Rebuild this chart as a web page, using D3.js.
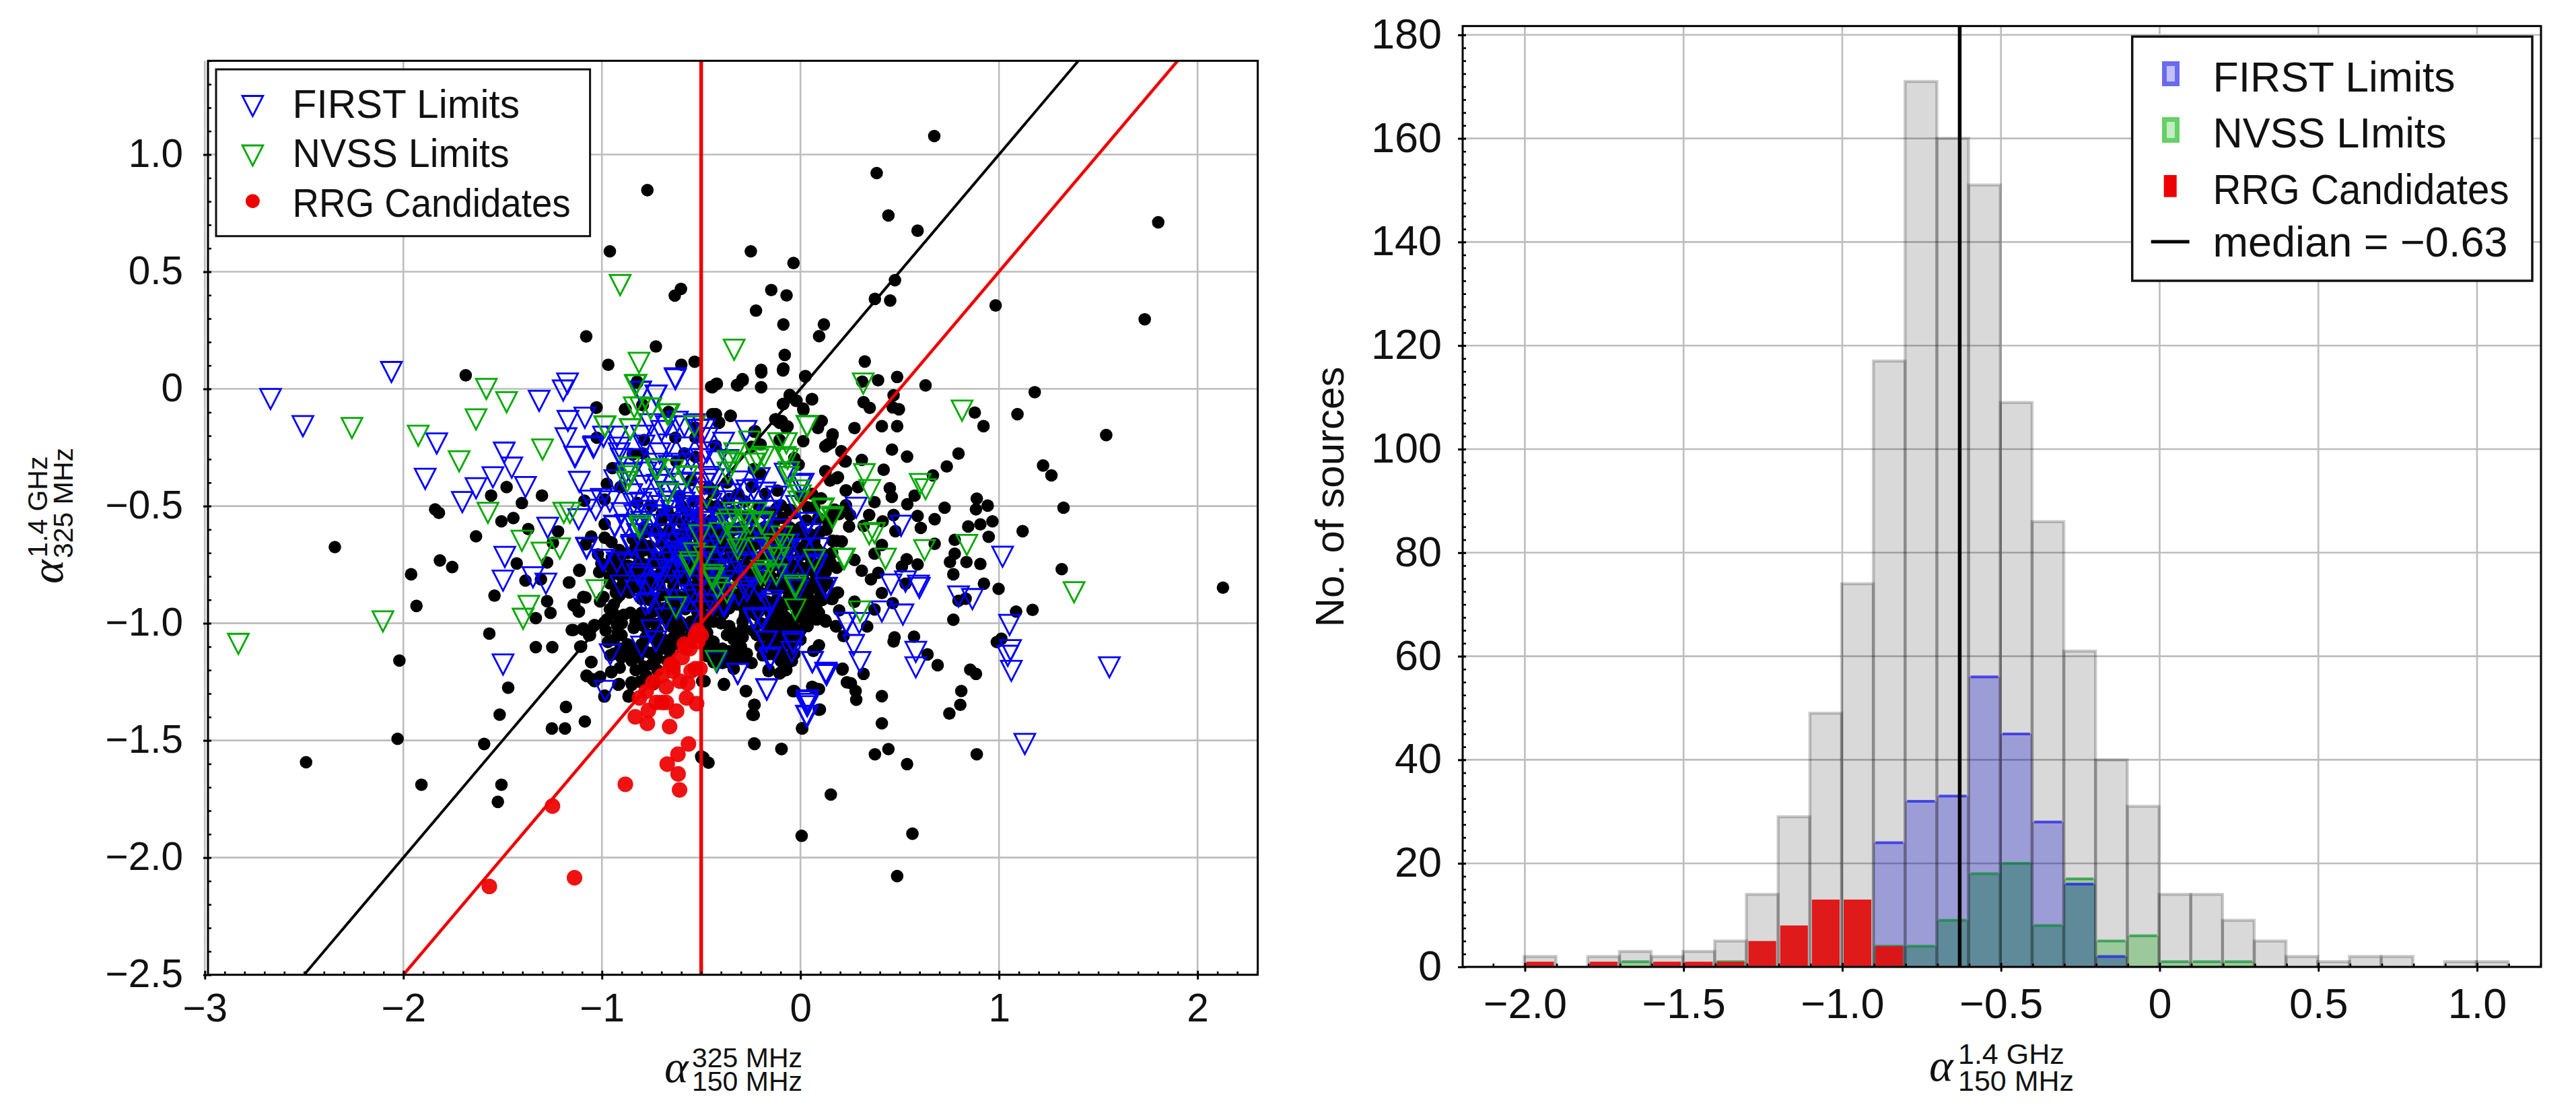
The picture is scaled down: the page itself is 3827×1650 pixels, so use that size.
<!DOCTYPE html>
<html><head><meta charset="utf-8">
<script src="https://cdn.jsdelivr.net/npm/d3@7"></script>
<style>
html,body{margin:0;padding:0;background:#fff}
svg{display:block}
text{font-family:"Liberation Sans",Arial,sans-serif;fill:#111}
</style></head><body><svg id="c" width="3827" height="1650"></svg>
<script>
// ---------- scatter values ----------
const blackOuter=[[-0.771,0.848],[-0.96,0.587],[-0.633,0.398],[-0.602,0.427],[-1.079,0.224],[-0.728,0.181],[-0.968,0.103],[-0.600,0.103],[-0.533,0.116],[-1.686,0.058],[-0.823,0.031],[-1.027,-0.079],[-0.884,-0.087],[-0.796,-0.068],[-0.664,-0.098],
[0.674,1.079],[0.384,0.921],[0.443,0.740],[0.590,0.675],[-0.250,0.587],[-0.035,0.537],[1.802,0.711],[1.734,0.297],[0.476,0.464],[0.375,0.384],[0.452,0.377],[-0.147,0.422],[-0.070,0.399],[-0.224,0.334],[0.983,0.356],[-0.086,0.275],[0.118,0.275],[0.094,0.225],[-0.079,0.145],[0.324,0.117],[-0.198,0.081],[-0.086,0.087],[0.024,0.053],[0.487,0.051],[0.391,0.037],[0.311,0.031],[0.630,0.015],[1.180,-0.014],[-0.426,0.020],[-0.45,0.009],[-0.292,0.042],[-0.316,0.015],[-0.198,0.007],[0.057,-0.044],[-0.053,-0.029],[-0.086,-0.064],[-0.022,-0.051],[0.015,-0.090],[0.469,-0.027],[0.318,-0.057],[0.349,-0.081],[0.465,-0.079],[0.496,-0.087],[1.093,-0.108],[0.878,-0.101],[0.922,-0.159],[0.410,-0.159],[0.487,-0.159],[1.540,-0.197],[-0.426,-0.110],[-0.411,-0.145],[-0.353,-0.115],[-0.123,-0.130],[-0.105,-0.145],[-0.071,-0.167],[0.107,-0.137],[0.088,-0.167],[0.162,-0.194],[-0.233,-0.183],[0.272,-0.167],
[-1.480,-0.419],[-1.302,-0.455],[-1.558,-0.455],[-1.403,-0.487],[-1.840,-0.514],[-1.821,-0.529],[-1.506,-0.565],[-1.446,-0.551],[-2.345,-0.675],[-1.634,-0.629],[-1.371,-0.598],[-1.221,-0.608],[-1.247,-0.657],[-1.816,-0.732],[-1.754,-0.760],[-1.429,-0.745],[-1.276,-0.741],[-1.961,-0.791],[-1.385,-0.818],[-1.307,-0.813],[-1.166,-0.826],[-1.114,-0.776],[-1.541,-0.882],[-1.934,-0.926],[-1.276,-0.906],[-1.259,-0.956],[-1.333,-0.978],[-1.143,-0.923],[-1.117,-0.950],[-1.083,-0.890],[-1.567,-1.044],[-1.152,-1.029],[-1.095,-1.027],[-1.039,-1.009],[-1.065,-1.051],[-0.988,-0.996],[-1.333,-1.102],[-1.250,-1.102],[-1.109,-1.100],[-2.020,-1.159],[-1.053,-1.165],[-0.953,-1.207],[-1.077,-1.225],[-1.048,-1.238],[-1.472,-1.275],[-0.918,-1.262],[-0.849,-1.262],[-0.988,-1.313],[-0.866,-1.313],[-1.181,-1.357],[-1.515,-1.390],[-1.086,-1.419],[-1.252,-1.449],[-1.186,-1.449],[-2.029,-1.493],[-1.593,-1.515],[-2.490,-1.593],[-1.909,-1.689],[-1.506,-1.689],[-1.524,-1.762],[-0.498,-1.573]];
const blackRight=[[0.461,-0.259],[0.537,-0.289],[0.796,-0.276],[0.737,-0.331],[1.222,-0.327],[1.264,-0.369],[1.325,-0.507],[0.419,-0.345],[0.667,-0.369],[0.309,-0.303],[0.228,-0.309],[0.153,-0.230],[0.125,-0.245],[0.125,-0.351],[0.189,-0.377],[0.149,-0.391],[0.230,-0.433],[0.290,-0.419],[0.450,-0.424],[0.460,-0.461],[0.575,-0.455],[0.538,-0.492],[0.373,-0.483],[0.726,-0.507],[0.888,-0.468],[0.884,-0.514],[0.943,-0.498],[0.967,-0.565],[0.906,-0.578],[0.845,-0.587],[1.119,-0.607],[0.948,-0.631],[0.590,-0.542],[0.676,-0.556],[0.606,-0.593],[0.469,-0.538],[0.414,-0.565],[0.478,-0.607],[0.250,-0.538],[0.245,-0.587],[0.346,-0.538],[0.318,-0.584],[0.162,-0.538],[0.162,-0.648],[0.208,-0.651],[0.676,-0.661],[0.777,-0.644],[0.777,-0.703],[0.753,-0.739],[0.836,-0.739],[0.906,-0.747],[0.770,-0.791],[0.535,-0.727],[0.590,-0.749],[0.511,-0.758],[1.316,-0.769],[0.373,-0.703],[0.410,-0.666],[0.272,-0.730],[0.309,-0.776],[0.355,-0.813],[0.392,-0.785],[0.924,-0.831],[0.998,-0.853],[2.128,-0.848],[0.410,-0.871],[0.180,-0.871],[0.153,-0.895],[0.272,-0.908],[0.465,-0.914],[0.529,-0.831],[0.796,-0.904],[0.832,-0.895],[0.373,-0.941],[1.086,-0.950],[1.169,-0.943],[0.770,-0.985],[0.180,-1.014],[0.125,-0.987],[0.336,-1.014],[0.033,-1.005],[-0.059,-1.005],[0.474,-1.060],[0.469,-1.078],[0.572,-1.057],[1.012,-1.066],[0.989,-1.080],[0.640,-1.133],[0.691,-1.179],[0.855,-1.198],[0.884,-1.216],[0.211,-1.198],[0.318,-1.216],[0.254,-1.256],[0.278,-1.289],[0.281,-1.326],[-0.386,-1.262],[-0.275,-1.289],[-0.031,-1.289],[0.079,-1.280],[0.410,-1.311],[0.810,-1.289],[0.805,-1.348],[0.750,-1.385],[-0.233,-1.348],[-0.242,-1.390],[0.098,-1.368],[0.410,-1.427],[0.009,-1.449],[-0.233,-1.513],[-0.095,-1.537],[0.375,-1.559],[0.443,-1.537],[0.537,-1.601],[0.888,-1.559],[0.153,-1.731],[-0.463,-1.595],[0.006,-1.907],[0.564,-1.898],[0.487,-2.079],[-0.095,-1.207],[-0.077,-1.198],[-0.160,-1.198]];
const blackUpperBlob=[[-1.029,-0.081],[-0.881,-0.086],[-0.794,-0.069],[-0.822,0.026],[-0.444,0.007],[-0.529,-0.165],[-0.529,-0.208],[-1.026,-0.208],[-0.788,-0.218],[-0.630,-0.208],[-0.845,-0.280],[-0.794,-0.275],[-0.585,-0.275],[-0.529,-0.290],[-0.625,-0.309],[-0.947,-0.338],[-0.975,-0.405],[-0.907,-0.419],[-0.444,-0.108],[-1.088,-0.477],[-0.986,-0.472],[-0.822,-0.486],[-0.749,-0.500],[-0.698,-0.534],[-0.986,-0.577],[-0.986,-0.635],[-0.952,-0.654],[-1.054,-0.630],[-1.082,-0.663],[-0.715,-0.615],[-0.608,-0.457],[-0.551,-0.390],[-0.461,-0.419],[-0.461,-0.496],[-0.596,-0.572],[-0.642,-0.620],[-0.800,-0.659],[-0.788,-0.591],[-0.845,-0.640],[-0.913,-0.687],[-1.020,-0.706],[-1.003,-0.745],[-1.113,-0.772],[-0.681,-0.716],[-0.568,-0.668],[-0.506,-0.601],[-0.619,-0.706],[-0.551,-0.735],[-0.461,-0.668],[-0.732,-0.735],[-0.811,-0.735],[-0.890,-0.754],[-0.630,-0.754],[-0.495,-0.735],[-0.947,-0.764],
[-0.421,0.022],[-0.320,0.017],[-0.291,0.036],[-0.197,0.071],[-0.088,0.079],[0.025,0.055],[-0.054,-0.026],[-0.088,-0.065],[-0.020,-0.050],[0.014,-0.084],[0.059,-0.044],[-0.427,-0.108],[-0.410,-0.143],[-0.351,-0.115],[-0.127,-0.130],[-0.094,-0.137],[-0.065,-0.160],[0.104,-0.137],[0.087,-0.160],[0.161,-0.199],[0.138,-0.237],[0.014,-0.223],[0.206,-0.266],[-0.229,-0.180],[-0.201,-0.237],[-0.246,-0.247],[-0.105,-0.218],[-0.427,-0.242],[-0.031,-0.295],[-0.009,-0.323],[0.223,-0.309],[0.127,-0.352],[0.183,-0.381],[0.228,-0.434],[-0.116,-0.434],[-0.178,-0.448],[0.104,-0.467],[0.172,-0.515],[0.229,-0.496],[0.132,-0.601],[0.183,-0.649],[0.195,-0.534],[-0.054,-0.515],[0.070,-0.505],[-0.054,-0.591],[-0.235,-0.342],[-0.201,-0.362],[-0.370,-0.400],[-0.438,-0.443],[-0.314,-0.448],[-0.246,-0.419],[0.0,-0.591],[0.059,-0.448],[0.036,-0.505],[0.0,-0.457],[0.127,-0.735],[-0.133,-0.572],[-0.099,-0.496]];
const blackLowerBlob=[[-1.113,-0.775],[-1.164,-0.826],[-1.094,-0.888],[-1.139,-0.921],[-1.116,-0.950],[-1.009,-0.907],[-0.975,-0.984],[-1.037,-1.008],[-1.094,-1.022],[-1.144,-1.029],[-1.060,-1.051],[-1.105,-1.099],[-0.981,-1.031],[-0.924,-1.008],[-0.890,-0.964],[-0.856,-0.955],[-0.862,-0.869],[-0.811,-0.850],[-0.992,-0.888],[-0.800,-0.955],[-0.788,-1.012],[-0.901,-1.051],[-0.845,-1.108],[-0.907,-1.108],[-1.054,-1.166],[-0.952,-1.209],[-1.077,-1.223],[-1.037,-1.247],[-1.009,-1.228],[-0.913,-1.259],[-0.851,-1.252],[-0.986,-1.309],[-0.864,-1.309],[-0.777,-1.223],[-0.788,-1.185],[-0.749,-1.175],[-0.817,-1.146],[-0.755,-1.127],[-0.902,-1.146],[-0.958,-1.137],[-0.698,-1.108],[-0.653,-1.012],[-0.687,-1.070],[-0.619,-1.089],[-0.608,-0.993],[-0.551,-0.993],[-0.732,-1.003],[-0.687,-0.936],[-0.743,-0.897],[-0.800,-0.897],[-0.676,-0.878],[-0.608,-0.888],[-0.517,-0.897],[-0.495,-0.964],[-0.755,-0.821],[-0.676,-0.802],[-0.585,-0.811],[-0.506,-0.811],[-0.822,-0.792],[-0.992,-0.754],[-1.014,-0.782],[-0.868,-0.754],[-0.788,-0.749],[-0.676,-0.744],[-0.574,-0.744],[-0.495,-1.247],[-0.500,-1.568],
[0.183,-0.763],[0.161,-0.897],[0.189,-0.869],[0.195,-0.945],[0.178,-1.012],[0.127,-0.993],[0.217,-1.055],[0.036,-1.012],[0.082,-0.984],[-0.054,-0.993],[-0.031,-1.022],[0.093,-1.094],[0.065,-1.118],[0.0,-1.070],[-0.094,-1.089],[-0.201,-1.099],[-0.190,-1.137],[-0.156,-1.132],[-0.246,-1.170],[-0.297,-1.151],[-0.359,-1.166],[-0.043,-1.161],[-0.161,-1.204],[-0.105,-1.214],[-0.071,-1.199],[-0.336,-1.194],[-0.393,-1.170],[-0.438,-1.166],[0.212,-1.194],[0.234,-1.252],[-0.385,-1.259],[-0.274,-1.290],[-0.037,-1.290],[0.059,-1.271],[0.093,-1.281],[-0.231,-1.348],[-0.235,-1.391],[0.093,-1.369],[0.008,-1.448],[-0.231,-1.515],[-0.096,-1.536],[-0.483,-1.247],[-0.489,-1.573],[-0.438,-0.993],[-0.359,-1.012],[-0.291,-0.993],[-0.167,-1.003],[-0.110,-0.993],[-0.336,-1.070],[-0.438,-1.079],[-0.291,-1.060],[-0.393,-1.108],[-0.325,-1.108],[-0.280,-0.945],[-0.359,-0.936],[-0.427,-0.945],[-0.325,-0.878],[-0.235,-0.888],[-0.167,-0.907],[-0.257,-0.821],[-0.190,-0.802],[-0.099,-0.754],[-0.043,-0.859],[0.014,-0.907],[0.070,-0.782],[0.070,-0.907],[0.093,-0.955],[-0.077,-0.850],[-0.031,-0.754],[0.036,-0.830],[0.048,-0.754],[0.127,-0.782],[-0.393,-0.821],[-0.461,-0.830],[-0.325,-0.773],[-0.404,-0.754],[-0.472,-0.917],[-0.122,-0.964],[-0.223,-0.964],[0.036,-0.945]];
const blackCore=[
[-0.70,-0.56],[-0.64,-0.55],[-0.57,-0.53],[-0.51,-0.55],[-0.45,-0.56],[-0.39,-0.54],[-0.33,-0.52],[-0.27,-0.54],[-0.21,-0.50],[-0.15,-0.53],[-0.09,-0.55],[-0.03,-0.53],[0.03,-0.56],[0.09,-0.55],[0.14,-0.57],
[-0.78,-0.61],[-0.66,-0.60],[-0.60,-0.62],[-0.54,-0.59],[-0.48,-0.61],[-0.42,-0.60],[-0.36,-0.62],[-0.30,-0.59],[-0.24,-0.61],[-0.18,-0.59],[-0.12,-0.62],[-0.06,-0.60],[0.05,-0.62],[0.10,-0.61],
[-0.87,-0.70],[-0.76,-0.67],[-0.70,-0.66],[-0.64,-0.67],[-0.52,-0.68],[-0.45,-0.65],[-0.39,-0.67],[-0.33,-0.66],[-0.27,-0.68],[-0.21,-0.66],[-0.15,-0.67],[-0.09,-0.65],[-0.03,-0.67],[0.03,-0.66],[0.08,-0.68],[0.16,-0.70],
[-0.95,-0.72],[-0.84,-0.70],[-0.74,-0.71],[-0.58,-0.71],[-0.42,-0.71],[-0.36,-0.72],[-0.30,-0.70],[-0.24,-0.72],[-0.18,-0.71],[-0.12,-0.70],[-0.06,-0.72],[0.0,-0.71],[0.05,-0.72],[0.11,-0.70],
[-0.92,-0.79],[-0.86,-0.79],[-0.70,-0.76],[-0.62,-0.79],[-0.55,-0.78],[-0.46,-0.78],[-0.36,-0.78],[-0.28,-0.77],[-0.23,-0.79],[-0.15,-0.76],[-0.09,-0.79],[-0.04,-0.80],[0.02,-0.78],[0.10,-0.80],
[-0.96,-0.83],[-0.90,-0.84],[-0.80,-0.80],[-0.71,-0.84],[-0.64,-0.84],[-0.53,-0.84],[-0.44,-0.85],[-0.37,-0.85],[-0.30,-0.83],[-0.22,-0.85],[-0.15,-0.84],[-0.10,-0.83],[0.01,-0.85],[0.08,-0.85],[0.14,-0.83],
[-0.94,-0.92],[-0.91,-0.88],[-0.78,-0.87],[-0.73,-0.92],[-0.64,-0.90],[-0.57,-0.89],[-0.47,-0.88],[-0.41,-0.89],[-0.37,-0.90],[-0.28,-0.89],[-0.20,-0.92],[-0.12,-0.90],[-0.07,-0.92],[0.04,-0.89],[0.11,-0.90],
[-0.94,-0.96],[-0.74,-0.95],[-0.65,-0.96],[-0.58,-0.94],[-0.52,-0.95],[-0.46,-0.97],[-0.39,-0.96],[-0.24,-0.93],[-0.15,-0.96],[-0.08,-0.97],[-0.01,-0.95],[0.05,-0.96],
[-0.92,-1.04],[-0.84,-1.02],[-0.76,-1.05],[-0.61,-1.04],[-0.55,-1.05],[-0.50,-1.02],[-0.47,-1.04],[-0.29,-1.02],[-0.24,-1.03],[-0.18,-1.05],[-0.12,-1.03],[-0.06,-1.05],[0.0,-1.03],
[-0.97,-1.08],[-0.80,-1.09],[-0.73,-1.07],[-0.65,-1.09],[-0.48,-1.10],[-0.44,-1.13],[-0.37,-1.05],[-0.30,-1.10],[-0.15,-1.08],[-0.10,-1.11],[-0.05,-1.09],
[-0.85,-1.16],[-0.72,-1.15],[-0.67,-1.16],[-0.42,-1.12],[-0.36,-1.12],[-0.30,-1.14],[-0.12,-1.14],[-0.06,-1.14],[-0.91,-1.19],[-0.83,-1.20],[-0.72,-1.20],[-0.81,-1.25],[-0.74,-1.26]];
const blackGaps=[[-0.67,-0.52],[-0.60,-0.50],[-0.54,-0.48],[-0.42,-0.50],[-0.36,-0.47],[-0.28,-0.48],[-0.24,-0.55],[-0.18,-0.53],[-0.12,-0.51],[-0.73,-0.60],[-0.69,-0.63],[-0.63,-0.64],[-0.57,-0.63],[-0.51,-0.64],[-0.45,-0.62],[-0.39,-0.64],[-0.33,-0.60],[-0.27,-0.63],[-0.21,-0.62],[-0.15,-0.62],[-0.09,-0.62],[-0.03,-0.63],[0.02,-0.62],[0.07,-0.65],
[-0.83,-0.67],[-0.79,-0.69],[-0.67,-0.70],[-0.60,-0.67],[-0.55,-0.71],[-0.49,-0.70],[-0.42,-0.68],[-0.36,-0.68],[-0.30,-0.66],[-0.24,-0.67],[-0.18,-0.67],[-0.12,-0.67],[-0.06,-0.68],[0.0,-0.68],[0.05,-0.69],
[-0.91,-0.73],[-0.84,-0.76],[-0.77,-0.76],[-0.71,-0.72],[-0.66,-0.77],[-0.59,-0.75],[-0.52,-0.76],[-0.46,-0.74],[-0.40,-0.76],[-0.33,-0.74],[-0.27,-0.74],[-0.21,-0.75],[-0.12,-0.75],[-0.06,-0.76],[0.0,-0.76],[0.08,-0.75],[0.15,-0.74],
[-0.96,-0.80],[-0.90,-0.80],[-0.84,-0.82],[-0.77,-0.79],[-0.73,-0.80],[-0.65,-0.81],[-0.58,-0.82],[-0.52,-0.80],[-0.46,-0.81],[-0.41,-0.78],[-0.32,-0.80],[-0.27,-0.81],[-0.20,-0.82],[-0.15,-0.80],[-0.09,-0.83],[-0.03,-0.82],[0.02,-0.82],[0.08,-0.81],[0.11,-0.85],
[-0.93,-0.87],[-0.85,-0.84],[-0.76,-0.85],[-0.70,-0.88],[-0.64,-0.87],[-0.56,-0.86],[-0.50,-0.86],[-0.43,-0.87],[-0.38,-0.84],[-0.28,-0.86],[-0.20,-0.87],[-0.12,-0.86],[-0.06,-0.89],[0.0,-0.87],[0.05,-0.85],[0.10,-0.87],
[-0.96,-0.94],[-0.76,-0.90],[-0.70,-0.94],[-0.63,-0.93],[-0.57,-0.92],[-0.51,-0.92],[-0.45,-0.92],[-0.40,-0.93],[-0.32,-0.92],[-0.26,-0.91],[-0.21,-0.95],[-0.16,-0.93],[-0.10,-0.93],[-0.03,-0.92],[0.01,-0.92],[0.08,-0.93],
[-0.90,-1.0],[-0.83,-0.99],[-0.77,-0.98],[-0.69,-0.98],[-0.63,-0.98],[-0.57,-1.01],[-0.52,-0.98],[-0.47,-1.0],[-0.40,-1.0],[-0.28,-0.97],[-0.20,-1.0],[-0.14,-0.99],[-0.08,-1.01],[-0.03,-0.98],[0.01,-0.98],
[-0.94,-1.07],[-0.87,-1.09],[-0.78,-1.06],[-0.72,-1.03],[-0.64,-1.06],[-0.58,-1.07],[-0.52,-1.06],[-0.46,-1.07],[-0.34,-1.04],[-0.22,-1.05],[-0.16,-1.04],[-0.10,-1.06],[-0.03,-1.06],
[-0.94,-1.13],[-0.87,-1.14],[-0.78,-1.12],[-0.72,-1.11],[-0.66,-1.12],[-0.47,-1.14],[-0.39,-1.14],[-0.33,-1.15],[-0.27,-1.13],[-0.10,-1.16],[-0.03,-1.13]];

const firstLimits=[[-2.669,-0.043],[-2.506,-0.159],[-2.060,0.072],[-1.173,0.023],[-1.195,-0.007],[-1.316,-0.051],[-0.631,0.045],[-1.832,-0.233],[-1.171,-0.137],[-1.086,-0.123],[-1.181,-0.211],[-0.806,-0.013],[-0.728,-0.029],
[-1.890,-0.384],[-1.634,-0.424],[-1.549,-0.377],[-1.454,-0.336],[-1.492,-0.272],[-1.385,-0.419],[-1.703,-0.483],[-1.134,-0.290],[-1.114,-0.397],[-1.040,-0.245],[-1.273,-0.593],[-1.117,-0.556],[-1.031,-0.516],[-1.057,-0.477],[-1.489,-0.717],[-1.498,-0.818],[-1.347,-0.804],[-1.282,-0.831],[-1.077,-0.681],[-0.988,-0.730],[-0.936,-0.584],[-0.904,-0.840],[-1.498,-1.176],[-0.958,-1.133],[-0.984,-1.289],[-0.763,-0.914],[-0.728,-1.078],[-0.849,-0.666],[-0.806,-0.804],[-0.745,-0.831],[-0.624,-0.694],
[1.018,-0.716],[0.507,-0.584],[0.281,-0.507],[0.131,-0.849],[0.410,-0.950],[0.516,-0.963],[0.599,-0.849],[0.594,-0.840],[0.529,-0.822],[0.456,-0.835],[0.796,-0.886],[0.866,-0.897],[1.053,-1.007],[0.232,-0.999],[0.296,-0.999],[0.268,-1.093],[0.300,-1.166],[0.581,-1.122],[0.581,-1.188],[1.058,-1.115],[1.044,-1.139],[1.062,-1.203],[1.556,-1.188],[1.130,-1.515],[-0.169,-1.282],[-0.316,-1.216],[0.061,-1.165],[0.129,-1.212],[0.131,-1.221],[-0.037,-1.088],[-0.169,-1.078],[-0.150,-1.146],[0.037,-1.329],[0.033,-1.344],[0.030,-1.395],[-0.233,-0.978],[-0.196,-0.978],[0.042,-0.571],[0,-0.41],[-0.389,-0.923],[-0.261,-0.849],[-0.141,-0.904],[0.079,-0.749],[0.024,-0.758],[-0.013,-0.859],
[-1.043,-0.251],[-1.137,-0.290],[-1.003,-0.470],[-0.935,-0.587],[-0.834,-0.539],[-0.800,-0.568],[-0.834,-0.587],[-0.715,-0.620],[-0.851,-0.673],[-1.077,-0.678],[-0.998,-0.730],[-0.924,-0.740],[-0.630,0.041],[-0.805,-0.012],[-0.726,-0.029],[-0.755,-0.151],[-0.676,-0.160],[-0.585,-0.160],[-0.512,-0.175],[-0.534,-0.151],[-0.992,-0.204],[-0.924,-0.204],[-0.913,-0.251],[-0.913,-0.275],[-0.902,-0.299],[-0.788,-0.242],[-0.664,-0.237],[-0.709,-0.275],[-0.851,-0.362],[-0.777,-0.357],[-0.935,-0.390],[-0.805,-0.486],[-0.664,-0.481],[-0.585,-0.486],[-0.642,-0.548],[-0.551,-0.510],[-0.461,-0.376],[-0.596,-0.405],[-0.483,-0.405],[-0.709,-0.386],[-0.788,-0.414],[-0.596,-0.644],[-0.534,-0.635],[-0.619,-0.711],[-0.483,-0.596],[-0.709,-0.807],
[0.127,-0.850],[-0.020,-0.835],[-0.269,-0.864],[-0.382,-0.926],[-0.156,-0.917],[-0.235,-0.984],[-0.190,-0.984],[-0.173,-1.079],[-0.037,-1.079],[-0.043,-1.122],[-0.156,-1.153],[-0.316,-1.216],[-0.170,-1.283],[0.059,-1.166],[0.127,-1.211],[0.132,-1.218],[0.034,-1.333],[0.034,-1.354],[0.034,-1.398],[0.229,-0.998],[-0.421,-1.166],[-0.438,-0.816],
[-0.274,-0.180],[-0.387,-0.230],[-0.472,-0.271],[-0.483,-0.173],[0.014,-0.405],[-0.178,-0.443],[-0.077,-0.362],[-0.438,-0.386],[-0.314,-0.395],[-0.235,-0.429],[-0.207,-0.381],[-0.365,-0.304],[-0.144,-0.520],[0.036,-0.572],[-0.348,-0.510],[-0.269,-0.433],[-0.370,-0.587],[0,-0.683],[-0.060,-0.663],[0.082,-0.754],[-0.178,-0.663],[-0.450,-0.596],[-0.404,-0.673],[-0.489,-0.568]];
const firstCore=[[-0.66,-0.72],[-0.60,-0.76],[-0.55,-0.68],[-0.50,-0.74],[-0.46,-0.69],[-0.42,-0.77],[-0.37,-0.72],[-0.32,-0.66],[-0.28,-0.75],[-0.23,-0.69],[-0.19,-0.74],[-0.13,-0.71],[-0.09,-0.76],[-0.06,-0.69],[-0.68,-0.62],[-0.62,-0.58],[-0.57,-0.56],[-0.52,-0.52],[-0.45,-0.49],[-0.41,-0.55],[-0.35,-0.45],[-0.30,-0.58],[-0.25,-0.52],[-0.20,-0.62],[-0.16,-0.55],[-0.10,-0.60],[-0.70,-0.50],[-0.62,-0.45],[-0.55,-0.40],[-0.50,-0.30],[-0.47,-0.21],[-0.42,-0.31],[-0.66,-0.33],[-0.58,-0.25],[-0.74,-0.47],[-0.85,-0.45],[-0.90,-0.53],[-0.96,-0.48],[-0.76,-0.58],[-0.71,-0.67],[-0.78,-0.73],[-0.72,-0.77],[-0.66,-0.84],[-0.59,-0.82],[-0.54,-0.88],[-0.47,-0.84],[-0.44,-0.92],[-0.35,-0.82],[-0.31,-0.88],[-0.25,-0.80],[-0.20,-0.86],[-0.12,-0.80],[-0.62,-0.94],[-0.56,-0.99],[-0.49,-0.95],[-0.83,-0.86],[-0.78,-0.92],[-0.68,-0.98],[-0.75,-1.03],[-0.80,-1.10],[-0.22,-0.58],[-0.12,-0.46],[-0.02,-0.50],[0.05,-0.62],[0.09,-0.68],[-0.05,-0.76],
[-0.74,-0.54],[-0.69,-0.58],[-0.65,-0.52],[-0.60,-0.62],[-0.56,-0.50],[-0.53,-0.58],[-0.50,-0.62],[-0.47,-0.55],[-0.43,-0.63],[-0.39,-0.48],[-0.35,-0.55],[-0.33,-0.62],[-0.82,-0.62],[-0.78,-0.52],[-0.75,-0.66],[-0.69,-0.74],[-0.64,-0.66],[-0.60,-0.70],[-0.56,-0.77],[-0.52,-0.70],[-0.48,-0.79],[-0.44,-0.74],[-0.40,-0.84],[-0.36,-0.78],[-0.32,-0.74],[-0.70,-0.90],[-0.65,-0.78],[-0.58,-0.90],[-0.52,-0.84],[-0.87,-0.75],[-0.82,-0.79],[-0.77,-0.84],[-0.88,-0.58],[-0.84,-0.49],[-0.72,-0.41],[-0.67,-0.44],[-0.60,-0.32],[-0.55,-0.30],[-0.52,-0.44],[-0.72,-0.32],[-0.82,-0.30],[-0.88,-0.36],[-0.80,-0.20],[-0.70,-0.18],[-0.62,-0.14]];
const nvssLimits=[[-0.908,0.443],[-0.813,0.111],[-1.582,0.0],[-1.480,-0.057],[-1.634,-0.130],[-2.259,-0.167],[-1.925,-0.2],[-0.832,0.015],[-0.754,-0.084],[-0.837,-0.079],[-0.984,-0.161],[-0.858,-0.172],[-0.662,-0.109],
[-0.334,0.167],[0.316,0.023],[0.033,-0.158],[0.814,-0.093],
[-1.719,-0.309],[-1.299,-0.259],[-1.574,-0.529],[-1.403,-0.648],[-1.302,-0.699],[-1.212,-0.681],[-1.026,-0.859],[-1.368,-0.926],[-1.397,-0.981],[-2.103,-0.992],[-2.831,-1.088],[-1.192,-0.529],[-0.628,-0.932],[-0.866,-0.373],[-0.728,-0.345],[-0.668,-0.446],[-0.806,-0.584],[-0.555,-0.739],[-0.572,-0.373],
[0.322,-0.364],[0.349,-0.432],[0.603,-0.406],[0.630,-0.428],[0.838,-0.666],[0.625,-0.688],[0.428,-0.725],[0.346,-0.620],[0.373,-0.615],[1.378,-0.868],[0.300,-0.950],[0.222,-0.725],[-0.026,-0.941],[0.116,-0.510],[0.162,-0.547],[-0.026,-0.840],[0.070,-0.730],[-0.426,-1.161],[-0.059,-0.355],[0,-0.455],[-0.196,-0.776],[-0.086,-0.666],[-0.141,-0.721],[-0.417,-0.849],[-0.343,-0.318],[-0.215,-0.300],[-0.325,-0.630],[-0.252,-0.575],[-0.371,-0.575],[-0.196,-0.575],[-0.077,-0.291],[-0.445,-0.795],[-0.316,-0.685],
[-0.828,0.017],[-0.805,-0.079],[-0.755,-0.084],[-0.670,-0.108],[-0.986,-0.160],[-0.534,-0.160],[-0.856,-0.173],[-0.862,-0.336],[-0.721,-0.342],[-0.642,-0.347],[-0.574,-0.376],[-0.873,-0.397],[-0.666,-0.448],[-0.811,-0.594],[-0.508,-0.625],[-0.534,-0.702],[-0.557,-0.754],[-1.161,-0.529],
[-0.026,-0.850],[-0.444,-0.811],[-0.370,-0.869],[-0.201,-0.792],[-0.122,-0.792],
[0.034,-0.160],[-0.071,-0.232],[-0.110,-0.232],[-0.257,-0.225],[-0.184,-0.290],[-0.065,-0.299],[-0.331,-0.275],[-0.365,-0.309],[-0.235,-0.319],[-0.365,-0.357],[-0.060,-0.376],[-0.009,-0.433],[-0.009,-0.481],[0.110,-0.515],[0.161,-0.553],[-0.286,-0.529],[-0.223,-0.529],[-0.337,-0.529],[-0.359,-0.558],[-0.190,-0.568],[-0.280,-0.563],[-0.404,-0.615],[-0.320,-0.654],[-0.212,-0.678],[-0.094,-0.630],[-0.133,-0.663],[-0.110,-0.721],[0.070,-0.730],[0.217,-0.726],[-0.483,-0.716],[-0.438,-0.807],[-0.178,-0.788],[-0.472,-0.462]];
const rrgCandidates=[[-1.567,-2.123],[-1.138,-2.086],[-1.249,-1.780],[-0.882,-1.687],[-0.609,-1.711],[-0.616,-1.643],[-0.671,-1.601],[-0.617,-1.559],[-0.564,-1.515],[-0.659,-1.441],[-0.771,-1.427],[-0.832,-1.399],[-0.624,-1.375],[-0.766,-1.372],[-0.698,-1.338],[-0.811,-1.319],[-0.726,-1.338],[-0.676,-1.338],[-0.574,-1.319],[-0.523,-1.343],[-0.777,-1.290],[-0.743,-1.252],[-0.698,-1.223],[-0.676,-1.271],[-0.568,-1.257],[-0.608,-1.247],[-0.642,-1.204],[-0.529,-1.194],[-0.506,-1.194],[-0.551,-1.204],[-0.596,-1.146],[-0.579,-1.103],[-0.585,-1.089],[-0.500,-1.051],[-0.529,-1.051],[-0.517,-1.079],[-0.642,-1.185],[-0.517,-1.031],[-0.557,-1.108],[-0.653,-1.175]];
// ---------- histogram values ----------
const binStarts=[-2.0,-1.9,-1.8,-1.7,-1.6,-1.5,-1.4,-1.3,-1.2,-1.1,-1.0,-0.9,-0.8,-0.7,-0.6,-0.5,-0.4,-0.3,-0.2,-0.1,0.0,0.1,0.2,0.3,0.4,0.5,0.6,0.7,0.8,0.9,1.0];
const allCounts =[2,0,2,3,2,3,5,14,29,49,74,117,171,160,151,109,86,61,40,31,14,14,9,5,2,1,2,2,0,1,1];
const firstCounts=[0,0,0,0,0,0,0,0,0,0,0,24,32,33,56,45,28,16,2,0,0,0,0,0,0,0,0,0,0,0,0];
const nvssCounts =[0,0,0,1,0,0,1,0,0,0,0,4,4,9,18,20,8,17,5,6,1,1,1,0,0,0,0,0,0,0,0];
const rrgCounts  =[1,0,1,0,1,1,1,5,8,13,13,4,0,0,0,0,0,0,0,0,0,0,0,0,0,0,0,0,0,0,0];
const medianValue=-0.63;
// ---------- ticks and texts ----------
const scatterXTicks=[-3,-2,-1,0,1,2], scatterYTicks=[-2.5,-2,-1.5,-1,-0.5,0,0.5,1];
const histXTicks=[-2,-1.5,-1,-0.5,0,0.5,1], histYTicks=[0,20,40,60,80,100,120,140,160,180];
const scatterLegend=["FIRST Limits","NVSS Limits","RRG Candidates"];
const histLegend=["FIRST Limits","NVSS LImits","RRG Candidates","median = \u22120.63"];

const svg=d3.select("#c");
const GRID="#bdbdbd";
const minusFmt=(dec)=>v=>{const s=Math.abs(v).toFixed(dec);return (v<0?"\u2212":"")+s;};
function styleAxis(g,size){
  g.select(".domain").remove();
  g.selectAll(".tick line").attr("stroke","#000").attr("stroke-width",3);
  g.selectAll("text").attr("font-size",size).style("font-family",'"Liberation Sans",Arial,sans-serif').attr("fill","#111");
}
function minorRange(a,b,step){const out=[];for(let i=Math.ceil(a/step-1e-6);i*step<=b+1e-6;i++)out.push(+(i*step).toFixed(3));return out;}
function frame(x,y,xTicks,yTicks,xFmt,yFmt,fs,xMinorStep,yMinorStep,xLabY,yLabX){
  const [l,r]=x.range(),[b,t]=y.range();
  const grid=svg.append("g");
  grid.selectAll("line.gx").data(xTicks).join("line").attr("class","gx").attr("x1",x).attr("x2",x).attr("y1",t).attr("y2",b).attr("stroke",GRID).attr("stroke-width",2.6);
  grid.selectAll("line.gy").data(yTicks).join("line").attr("class","gy").attr("y1",y).attr("y2",y).attr("x1",l).attr("x2",r).attr("stroke",GRID).attr("stroke-width",2.6);
  return function top(){
    const o=svg.append("g");
    o.append("rect").attr("x",l).attr("y",t).attr("width",r-l).attr("height",b-t).attr("fill","none").attr("stroke","#000").attr("stroke-width",3);
    const gx=o.append("g").attr("transform",`translate(0,${b})`).call(d3.axisBottom(x).tickValues(xTicks).tickFormat(xFmt).tickSize(7));
    styleAxis(gx,fs);
    gx.selectAll(".tick line").attr("y1",-6).attr("y2",7);
    gx.selectAll("text").attr("y",xLabY-b).attr("dy",0);
    const gy=o.append("g").attr("transform",`translate(${l},0)`).call(d3.axisLeft(y).tickValues(yTicks).tickFormat(yFmt).tickSize(7));
    styleAxis(gy,fs);
    gy.selectAll(".tick line").attr("x1",-7).attr("x2",5);
    gy.selectAll("text").attr("x",yLabX-l).attr("dy","0.31em");
    const mx=o.append("g").attr("transform",`translate(0,${b})`).call(d3.axisTop(x).tickValues(minorRange(x.domain()[0],x.domain()[1],xMinorStep).filter(v=>!xTicks.includes(v))).tickFormat("").tickSize(5));
    mx.select(".domain").remove(); mx.selectAll("line").attr("stroke","#000").attr("stroke-width",2.6);
    const my=o.append("g").attr("transform",`translate(${l},0)`).call(d3.axisRight(y).tickValues(minorRange(y.domain()[0],y.domain()[1],yMinorStep).filter(v=>!yTicks.includes(v))).tickFormat("").tickSize(5));
    my.select(".domain").remove(); my.selectAll("line").attr("stroke","#000").attr("stroke-width",2.6);
  };
}
function alpha(g,x,y){
  g.append("text").attr("x",x).attr("y",y).attr("font-size",68).style("font-family",'"Liberation Serif",serif').style("font-style","italic").text("\u03b1");
}
function stacked(g,sup,sub,x,supBase,gap,fs){
  const t=g.append("text").attr("font-size",fs);
  t.append("tspan").attr("x",x).attr("y",supBase).text(sup);
  t.append("tspan").attr("x",x).attr("y",supBase+gap).text(sub);
}

// ---------- left: scatter ----------
const xS=d3.scaleLinear().domain([-2.984,2.303]).range([309,1868.5]);
const yS=d3.scaleLinear().domain([-2.5,1.4]).range([1447.7,90.3]);
const drawTopL=frame(xS,yS,scatterXTicks,scatterYTicks,d3.format("d"),v=>v===0?"0":minusFmt(1)(v),58.5,0.1,0.1,1517,272);
const blacks=[...blackOuter,...blackRight,...blackUpperBlob,...blackLowerBlob,...blackCore,...blackGaps];
svg.append("g").selectAll("circle").data(blacks).join("circle").attr("cx",d=>xS(d[0])).attr("cy",d=>yS(d[1])).attr("r",9.3).attr("fill","#000");
const line=d3.line().x(d=>xS(d[0])).y(d=>yS(d[1]));
const diagBlack=[[-2.5,-2.5],[1.4,1.4]], diagRed=[[-2,-2.5],[1.9,1.4]], vertRed=[[-0.5,-2.5],[-0.5,1.4]];
svg.append("path").attr("d",line(diagBlack)).attr("stroke","#000").attr("stroke-width",4).attr("fill","none");
const tri=d3.line()([[-15.4,-15],[15.4,-15],[0,15]])+"Z";
function tris(data,col){
  svg.append("g").selectAll("path").data(data).join("path").attr("d",tri)
    .attr("transform",d=>`translate(${xS(d[0])},${yS(d[1])})`).attr("fill","none").attr("stroke",col).attr("stroke-width",2.8);
}
tris([...firstLimits,...firstCore],"#0000ff");
tris(nvssLimits,"#00aa00");
svg.append("g").selectAll("circle").data(rrgCandidates).join("circle").attr("cx",d=>xS(d[0])).attr("cy",d=>yS(d[1])).attr("r",11.6).attr("fill","#ee0000").attr("fill-opacity",0.93);
svg.append("path").attr("d",line(diagRed)).attr("stroke","#ee0000").attr("stroke-width",4.6).attr("fill","none");
svg.append("path").attr("d",line(vertRed)).attr("stroke","#ee0000").attr("stroke-width",5.5).attr("fill","none");
drawTopL();
// left legend
const legL=svg.append("g");
legL.append("rect").attr("x",321).attr("y",103).attr("width",555.6).attr("height",247.7).attr("fill","#fff").attr("stroke","#111").attr("stroke-width",3);
const legLBase=[175,248,321.7], legLWidth=[337.5,322,413];
legL.selectAll("text").data(scatterLegend).join("text").attr("x",434.6).attr("y",(d,i)=>legLBase[i]).attr("font-size",58.5).attr("textLength",(d,i)=>legLWidth[i]).attr("lengthAdjust","spacingAndGlyphs").text(d=>d);
legL.append("path").attr("d",tri).attr("transform","translate(375.4,157.5)").attr("fill","none").attr("stroke","#0000ff").attr("stroke-width",2.8);
legL.append("path").attr("d",tri).attr("transform","translate(375.4,231)").attr("fill","none").attr("stroke","#00aa00").attr("stroke-width",2.8);
legL.append("circle").attr("cx",375.4).attr("cy",298.7).attr("r",10.5).attr("fill","#ee0000");
// left axis labels
const lx=svg.append("g");
alpha(lx,987,1607);
stacked(lx,"325 MHz","150 MHz",1028,1585,35,41);
const ly=svg.append("g").attr("transform","translate(0,829) rotate(-90)");
alpha(ly,-38,93);
const ls=ly.append("text").attr("font-size",41);
ls.append("tspan").attr("x",1).attr("y",70).text("1.4 GHz");
ls.append("tspan").attr("x",0).attr("y",108).text("325 MHz");

// ---------- right: histogram ----------
const xH=d3.scaleLinear().domain([-2.196,1.2015]).range([2173,3775]);
const yH=d3.scaleLinear().domain([0,181.7]).range([1436,38.7]);
const fmtH=v=>v===0?"0":minusFmt(1)(v);
const drawTopR=frame(xH,yH,histXTicks,histYTicks,fmtH,d3.format("d"),63,0.1,2.5,1512,2142);
const idx=binStarts.map((d,i)=>i);
const binX=i=>xH(binStarts[i]-0.002), binW=xH(0.1)-xH(0);
const hg=svg.append("g");
function bars(cls,h0,h1,fill,inset){
  hg.selectAll("rect."+cls).data(idx.filter(i=>h1(i)>h0(i))).join("rect").attr("class",cls)
    .attr("x",i=>binX(i)+(inset||0)).attr("width",binW-2*(inset||0)).attr("y",i=>yH(h1(i))).attr("height",i=>yH(h0(i))-yH(h1(i))).attr("fill",fill);
}
const zero=()=>0;
bars("all",zero,i=>allCounts[i],"rgba(0,0,0,0.15)");
bars("first",zero,i=>firstCounts[i],"rgba(0,0,210,0.28)");
bars("both",zero,i=>Math.min(firstCounts[i],nvssCounts[i]),"rgba(0,110,60,0.39)");
bars("nvss",i=>Math.min(firstCounts[i],nvssCounts[i]),i=>nvssCounts[i],"rgba(0,160,0,0.28)");
const outline=d3.line();
hg.selectAll("path.edge").data(idx.filter(i=>allCounts[i]>0)).join("path").attr("class","edge")
  .attr("d",i=>outline([[binX(i),yH(0)],[binX(i),yH(allCounts[i])],[binX(i)+binW,yH(allCounts[i])],[binX(i)+binW,yH(0)]]))
  .attr("fill","none").attr("stroke","rgba(0,0,0,0.2)").attr("stroke-width",4.5);
function strip(cls,vals,col){
  hg.selectAll("line."+cls).data(idx.filter(i=>vals[i]>0)).join("line").attr("class",cls)
   .attr("x1",i=>binX(i)+3).attr("x2",i=>binX(i)+binW-3).attr("y1",i=>yH(vals[i])).attr("y2",i=>yH(vals[i])).attr("stroke",col).attr("stroke-width",4);
}
strip("s1",firstCounts,"rgba(30,30,235,0.75)");
strip("s2",nvssCounts,"rgba(0,140,40,0.65)");
bars("rrg",zero,i=>rrgCounts[i],"rgba(222,20,20,0.97)",3);
svg.append("line").attr("x1",xH(medianValue)).attr("x2",xH(medianValue)).attr("y1",yH.range()[1]).attr("y2",yH(0)).attr("stroke","#000").attr("stroke-width",5.5);
drawTopR();
// right legend
const legR=svg.append("g");
legR.append("rect").attr("x",3167.7).attr("y",54.3).attr("width",594.3).attr("height",362.7).attr("fill","#fff").attr("stroke","#111").attr("stroke-width",3.5);
const legRBase=[136,219,302.7,381], legRWidth=[360,347,440,438];
legR.selectAll("text").data(histLegend).join("text").attr("x",3287.5).attr("y",(d,i)=>legRBase[i]).attr("font-size",63).attr("textLength",(d,i)=>legRWidth[i]).attr("lengthAdjust","spacingAndGlyphs").text(d=>d);
legR.append("rect").attr("x",3215.5).attr("y",94.5).attr("width",19).attr("height",30).attr("fill","#c2c2f7").attr("stroke","#6a6af0").attr("stroke-width",7);
legR.append("rect").attr("x",3215.5).attr("y",177.5).attr("width",19).attr("height",31).attr("fill","#c2ecc2").attr("stroke","#66d066").attr("stroke-width",7);
legR.append("rect").attr("x",3214.7).attr("y",260).attr("width",19).attr("height",32.7).attr("fill","#ee0000");
legR.append("line").attr("x1",3195.7).attr("x2",3252.6).attr("y1",359).attr("y2",359).attr("stroke","#000").attr("stroke-width",5);
// right axis labels
const rx=svg.append("g");
alpha(rx,2866,1605);
stacked(rx,"1.4 GHz","150 MHz",2909,1580,40,43);
svg.append("text").attr("transform","translate(1996,738) rotate(-90)").attr("text-anchor","middle").attr("font-size",60).text("No. of sources");
</script></body></html>
